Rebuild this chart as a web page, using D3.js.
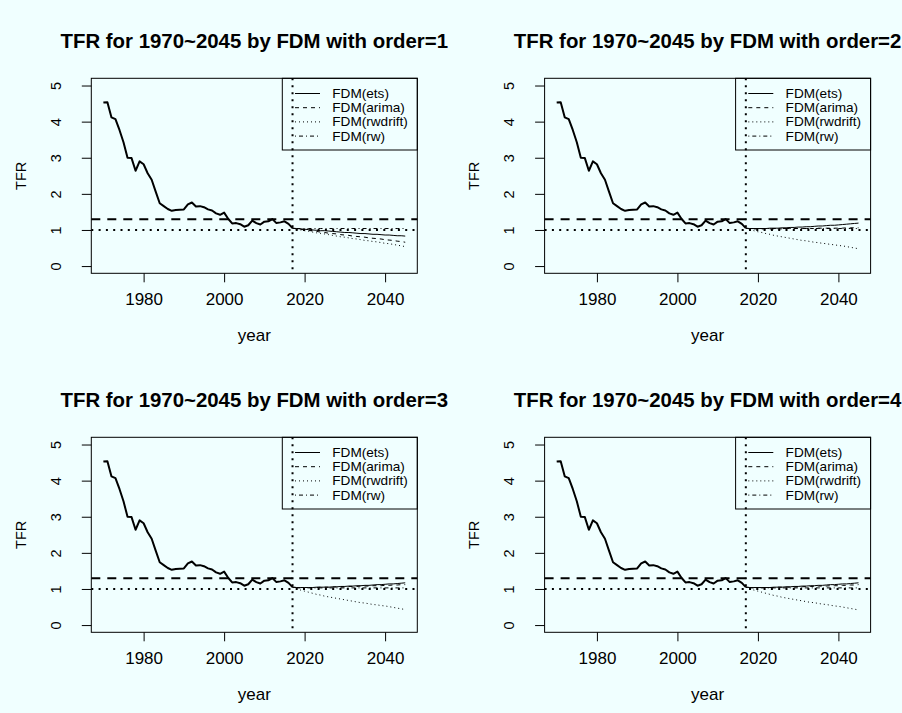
<!DOCTYPE html>
<html>
<head>
<meta charset="utf-8">
<script src="https://cdn.jsdelivr.net/npm/d3@7"></script>
<style>
  body { margin: 0; background: #F0FFFF; }
  svg { display: block; font-family: "Liberation Sans", Arial, Helvetica, sans-serif; }
</style>
</head>
<body>
<svg width="902" height="713"></svg>
<script>
// observed TFR 1970..2017
var histYears = d3.range(1970, 2018);
var tfr = [4.53, 4.54, 4.12, 4.07, 3.77, 3.43, 3.00, 2.99, 2.64, 2.90,
           2.82, 2.57, 2.39, 2.06, 1.74, 1.66, 1.58, 1.53, 1.55, 1.56,
           1.57, 1.71, 1.76, 1.65, 1.66, 1.63, 1.57, 1.54, 1.46, 1.42,
           1.48, 1.31, 1.18, 1.19, 1.16, 1.09, 1.13, 1.26, 1.19, 1.15,
           1.23, 1.24, 1.30, 1.19, 1.21, 1.24, 1.17, 1.05];

// forecast horizon 2018..2045
var fcYears = d3.range(2018, 2046);

var ets1 = [1.04,1.03,1.02,1.01,1.00,0.99,0.98,0.98,0.97,0.96, 0.95,0.94,0.93,0.93,0.92,0.91,0.90,0.90,0.89,0.88, 0.88,0.87,0.86,0.86,0.85,0.84,0.84,0.83];
var arima1 = [1.03,1.02,1.00,0.99,0.97,0.96,0.94,0.93,0.91,0.90, 0.89,0.87,0.86,0.85,0.83,0.82,0.81,0.80,0.78,0.77, 0.76,0.75,0.73,0.72,0.71,0.69,0.68,0.66];
var rwdrift1 = [1.02,1.00,0.98,0.96,0.94,0.92,0.90,0.89,0.87,0.85, 0.83,0.81,0.80,0.78,0.76,0.75,0.73,0.71,0.70,0.68, 0.67,0.65,0.63,0.62,0.60,0.58,0.56,0.54];
var rw1 = [1.04,1.04,1.04,1.04,1.04,1.04,1.04,1.04,1.04,1.04, 1.04,1.04,1.04,1.04,1.04,1.04,1.04,1.04,1.04,1.04, 1.04,1.04,1.04,1.04,1.04,1.04,1.04,1.04];

var ets2 = [1.04,1.04,1.04,1.04,1.04,1.05,1.05,1.05,1.06,1.06, 1.07,1.07,1.08,1.08,1.09,1.09,1.10,1.11,1.11,1.12, 1.13,1.13,1.14,1.15,1.16,1.17,1.18,1.19];
var arima2 = [1.03,1.03,1.03,1.03,1.03,1.03,1.03,1.03,1.03,1.04, 1.04,1.04,1.04,1.04,1.04,1.04,1.04,1.05,1.05,1.05, 1.05,1.05,1.05,1.05,1.06,1.06,1.06,1.06];
var rwdrift2 = [1.01,0.98,0.95,0.93,0.90,0.88,0.85,0.83,0.81,0.79, 0.77,0.75,0.73,0.71,0.70,0.68,0.66,0.65,0.63,0.62, 0.60,0.59,0.57,0.56,0.54,0.52,0.50,0.48];
var rw2 = [1.04,1.04,1.04,1.04,1.04,1.04,1.04,1.04,1.04,1.04, 1.04,1.04,1.04,1.04,1.04,1.04,1.04,1.04,1.04,1.04, 1.04,1.04,1.04,1.04,1.04,1.04,1.04,1.04];

var ets3 = [1.04,1.04,1.04,1.04,1.04,1.05,1.05,1.05,1.05,1.06, 1.06,1.07,1.07,1.08,1.08,1.09,1.09,1.10,1.10,1.11, 1.12,1.12,1.13,1.14,1.14,1.15,1.16,1.17];
var arima3 = [1.04,1.04,1.04,1.04,1.04,1.04,1.05,1.05,1.05,1.05, 1.06,1.06,1.06,1.07,1.07,1.07,1.08,1.08,1.08,1.09, 1.09,1.09,1.10,1.10,1.11,1.11,1.12,1.12];
var rwdrift3 = [1.00,0.97,0.94,0.91,0.88,0.85,0.83,0.80,0.78,0.76, 0.74,0.72,0.70,0.68,0.66,0.64,0.62,0.61,0.59,0.57, 0.56,0.54,0.53,0.51,0.49,0.47,0.45,0.43];
var rw3 = [1.03,1.03,1.03,1.03,1.03,1.03,1.03,1.03,1.03,1.03, 1.03,1.03,1.03,1.03,1.03,1.03,1.03,1.03,1.03,1.03, 1.03,1.03,1.03,1.03,1.03,1.03,1.03,1.03];

var ets4 = [1.04,1.04,1.04,1.04,1.04,1.04,1.05,1.05,1.05,1.06, 1.06,1.07,1.07,1.08,1.08,1.09,1.09,1.10,1.10,1.11, 1.12,1.12,1.13,1.14,1.14,1.15,1.16,1.17];
var arima4 = [1.04,1.04,1.04,1.04,1.04,1.04,1.04,1.05,1.05,1.05, 1.05,1.06,1.06,1.06,1.07,1.07,1.07,1.08,1.08,1.08, 1.09,1.09,1.09,1.10,1.10,1.11,1.11,1.12];
var rwdrift4 = [1.00,0.97,0.94,0.91,0.88,0.85,0.82,0.80,0.77,0.75, 0.73,0.71,0.69,0.67,0.65,0.63,0.62,0.60,0.58,0.57, 0.55,0.53,0.52,0.50,0.48,0.46,0.44,0.42];
var rw4 = [1.03,1.03,1.03,1.03,1.03,1.03,1.03,1.03,1.03,1.03, 1.03,1.03,1.03,1.03,1.03,1.03,1.03,1.03,1.03,1.03, 1.03,1.03,1.03,1.03,1.03,1.03,1.03,1.03];

var orders = [1, 2, 3, 4];
var forecasts = [
  [ets1, arima1, rwdrift1, rw1],
  [ets2, arima2, rwdrift2, rw2],
  [ets3, arima3, rwdrift3, rw3],
  [ets4, arima4, rwdrift4, rw4]
];
var methods = ["FDM(ets)", "FDM(arima)", "FDM(rwdrift)", "FDM(rw)"];
var dashes = [null, "4,4", "1,3", "1,3,4,3"];
var xTicks = [1980, 2000, 2020, 2040];
var yTicks = [0, 1, 2, 3, 4, 5];

var svg = d3.select("svg");
svg.append("rect").attr("width", 902).attr("height", 713).attr("fill", "#F0FFFF");

// plot box inside each panel
var L = 91.3, T = 78.3, W = 326, H = 195;

var x = d3.scaleLinear().domain([1967, 2048]).range([L, L + W]);
var y = d3.scaleLinear().domain([-0.2, 5.2]).range([T + H, T]);

var line = d3.line().x(d => x(d[0])).y(d => y(d[1]));

orders.forEach(function(ord, i) {
  var g = svg.append("g")
    .attr("transform", "translate(" + (i % 2) * 453.3 + "," + Math.floor(i / 2) * 359 + ")");

  // title
  g.append("text")
    .attr("x", L + W / 2).attr("y", 48.3)
    .attr("text-anchor", "middle")
    .attr("font-weight", "bold").attr("font-size", 20.4)
    .text("TFR for 1970~2045 by FDM with order=" + ord);

  // axes
  var xAxis = g.append("g")
    .attr("transform", "translate(0," + (T + H) + ")")
    .call(d3.axisBottom(x).tickValues(xTicks).tickFormat(d3.format("d"))
          .tickSize(9).tickPadding(11).tickSizeOuter(0));
  xAxis.select(".domain").remove();
  xAxis.selectAll("text").attr("font-size", 17).attr("font-family", null).attr("fill", "#000");

  var yAxis = g.append("g")
    .attr("transform", "translate(" + L + ",0)")
    .call(d3.axisLeft(y).tickValues(yTicks).tickFormat(d3.format("d"))
          .tickSize(9.5).tickSizeOuter(0));
  yAxis.select(".domain").remove();
  yAxis.selectAll("text")
    .attr("transform", "rotate(-90)")
    .attr("x", 0).attr("y", -(L - 61)).attr("dy", 0)
    .attr("text-anchor", "middle")
    .attr("font-size", 14.5).attr("font-family", null).attr("fill", "#000");

  g.append("text")
    .attr("x", L + W / 2).attr("y", 341.4)
    .attr("text-anchor", "middle").attr("font-size", 17)
    .text("year");

  g.append("text")
    .attr("transform", "translate(26," + (T + H / 2) + ") rotate(-90)")
    .attr("text-anchor", "middle").attr("font-size", 14.5)
    .text("TFR");

  // observed series
  g.append("path")
    .datum(histYears.map((yr, k) => [yr, tfr[k]]))
    .attr("d", line)
    .attr("fill", "none").attr("stroke", "#000").attr("stroke-width", 2)
    .attr("stroke-linejoin", "round");

  // forecasts, joined to the last observation
  var last = [histYears[histYears.length - 1], tfr[tfr.length - 1]];
  forecasts[i].forEach(function(series, m) {
    g.append("path")
      .datum([last].concat(fcYears.map((yr, k) => [yr, series[k]])))
      .attr("d", line)
      .attr("fill", "none").attr("stroke", "#000").attr("stroke-width", 1)
      .attr("stroke-dasharray", dashes[m]);
  });

  // reference lines
  g.append("line")
    .attr("x1", L).attr("x2", L + W).attr("y1", y(1.3)).attr("y2", y(1.3))
    .attr("stroke", "#000").attr("stroke-width", 2).attr("stroke-dasharray", "9,7");
  g.append("line")
    .attr("x1", L).attr("x2", L + W).attr("y1", y(1)).attr("y2", y(1))
    .attr("stroke", "#000").attr("stroke-width", 2).attr("stroke-dasharray", "2,5.3");

  // legend
  var lg = g.append("g");
  lg.append("rect")
    .attr("x", 282.3).attr("y", T).attr("width", L + W - 282.3).attr("height", 150 - T)
    .attr("fill", "none").attr("stroke", "#000").attr("stroke-width", 1);
  methods.forEach(function(name, m) {
    var ry = 93.5 + m * 14.2;
    lg.append("line")
      .attr("x1", 295).attr("x2", 320).attr("y1", ry).attr("y2", ry)
      .attr("stroke", "#000").attr("stroke-width", 1)
      .attr("stroke-dasharray", dashes[m]);
    lg.append("text")
      .attr("x", 332.3).attr("y", ry).attr("dy", "0.33em")
      .attr("font-size", 13.6)
      .text(name);
  });

  // forecast origin
  g.append("line")
    .attr("x1", x(2017)).attr("x2", x(2017)).attr("y1", T).attr("y2", T + H)
    .attr("stroke", "#000").attr("stroke-width", 2).attr("stroke-dasharray", "2,5");

  // box
  g.append("rect")
    .attr("x", L).attr("y", T).attr("width", W).attr("height", H)
    .attr("fill", "none").attr("stroke", "#000").attr("stroke-width", 1);
});
</script>
</body>
</html>
